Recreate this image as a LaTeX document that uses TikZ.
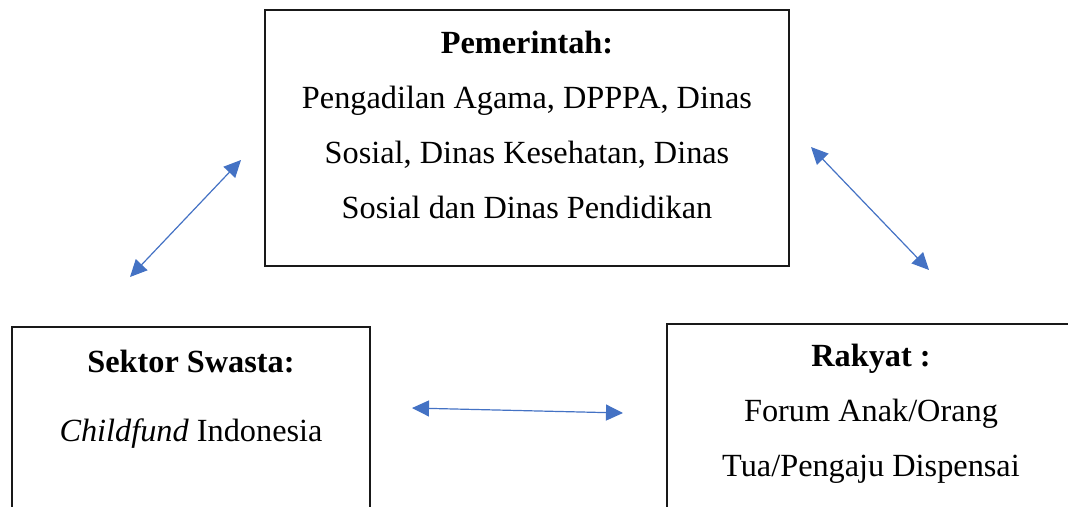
\documentclass[tikz,border=0pt]{standalone}
\usepackage{fontspec}
\setmainfont{Liberation Serif}
\usetikzlibrary{arrows.meta}
\definecolor{arrowblue}{HTML}{4472C4}
\tikzset{
  boxnode/.style={draw=black!90, line width=1.3pt, rectangle, inner sep=0pt},
  txt/.style={anchor=base, inner sep=0pt, font=\fontsize{32.3}{38}\selectfont},
  link/.style={draw=arrowblue, line width=1.2pt, {Triangle[length=17pt,width=16pt]}-{Triangle[length=17pt,width=16pt]}}
}
\begin{document}
\begin{tikzpicture}[x=1pt,y=-1pt]
\useasboundingbox (0,0) rectangle (1068,506);
\clip (0,0) rectangle (1068,506);
% boxes
\node[boxnode, minimum width=524pt, minimum height=256pt] (gov) at (527,138) {};
\node[boxnode, minimum width=358pt, minimum height=240pt] (swasta) at (191,447) {};
\node[boxnode, minimum width=440pt, minimum height=240pt] (rakyat) at (887,444) {};
% texts
\node[txt] (govT) at (527,53) {\textbf{Pemerintah:}};
\node[txt] (govL1) at (527,108) {Pengadilan Agama, DPPPA, Dinas};
\node[txt] (govL2) at (527,163) {Sosial, Dinas Kesehatan, Dinas};
\node[txt] (govL3) at (527,218) {Sosial dan Dinas Pendidikan};
\node[txt] (swT) at (191,372) {\textbf{Sektor Swasta:}};
\node[txt] (swL1) at (191,441) {\textit{Childfund} Indonesia};
\node[txt] (rkT) at (871,366) {\textbf{Rakyat :}};
\node[txt] (rkL1) at (871,421) {Forum Anak/Orang};
\node[txt] (rkL2) at (871,476) {Tua/Pengaju Dispensai};
% arrow end points
\coordinate (a1s) at (130,277);
\coordinate (a1e) at (241,160);
\coordinate (a2s) at (811,147);
\coordinate (a2e) at (929,270);
\coordinate (a3s) at (412,408);
\coordinate (a3e) at (623,413);
\draw[link] (a1s) -- (a1e);
\draw[link] (a2s) -- (a2e);
\draw[link] (a3s) -- (a3e);
\end{tikzpicture}
\end{document}
